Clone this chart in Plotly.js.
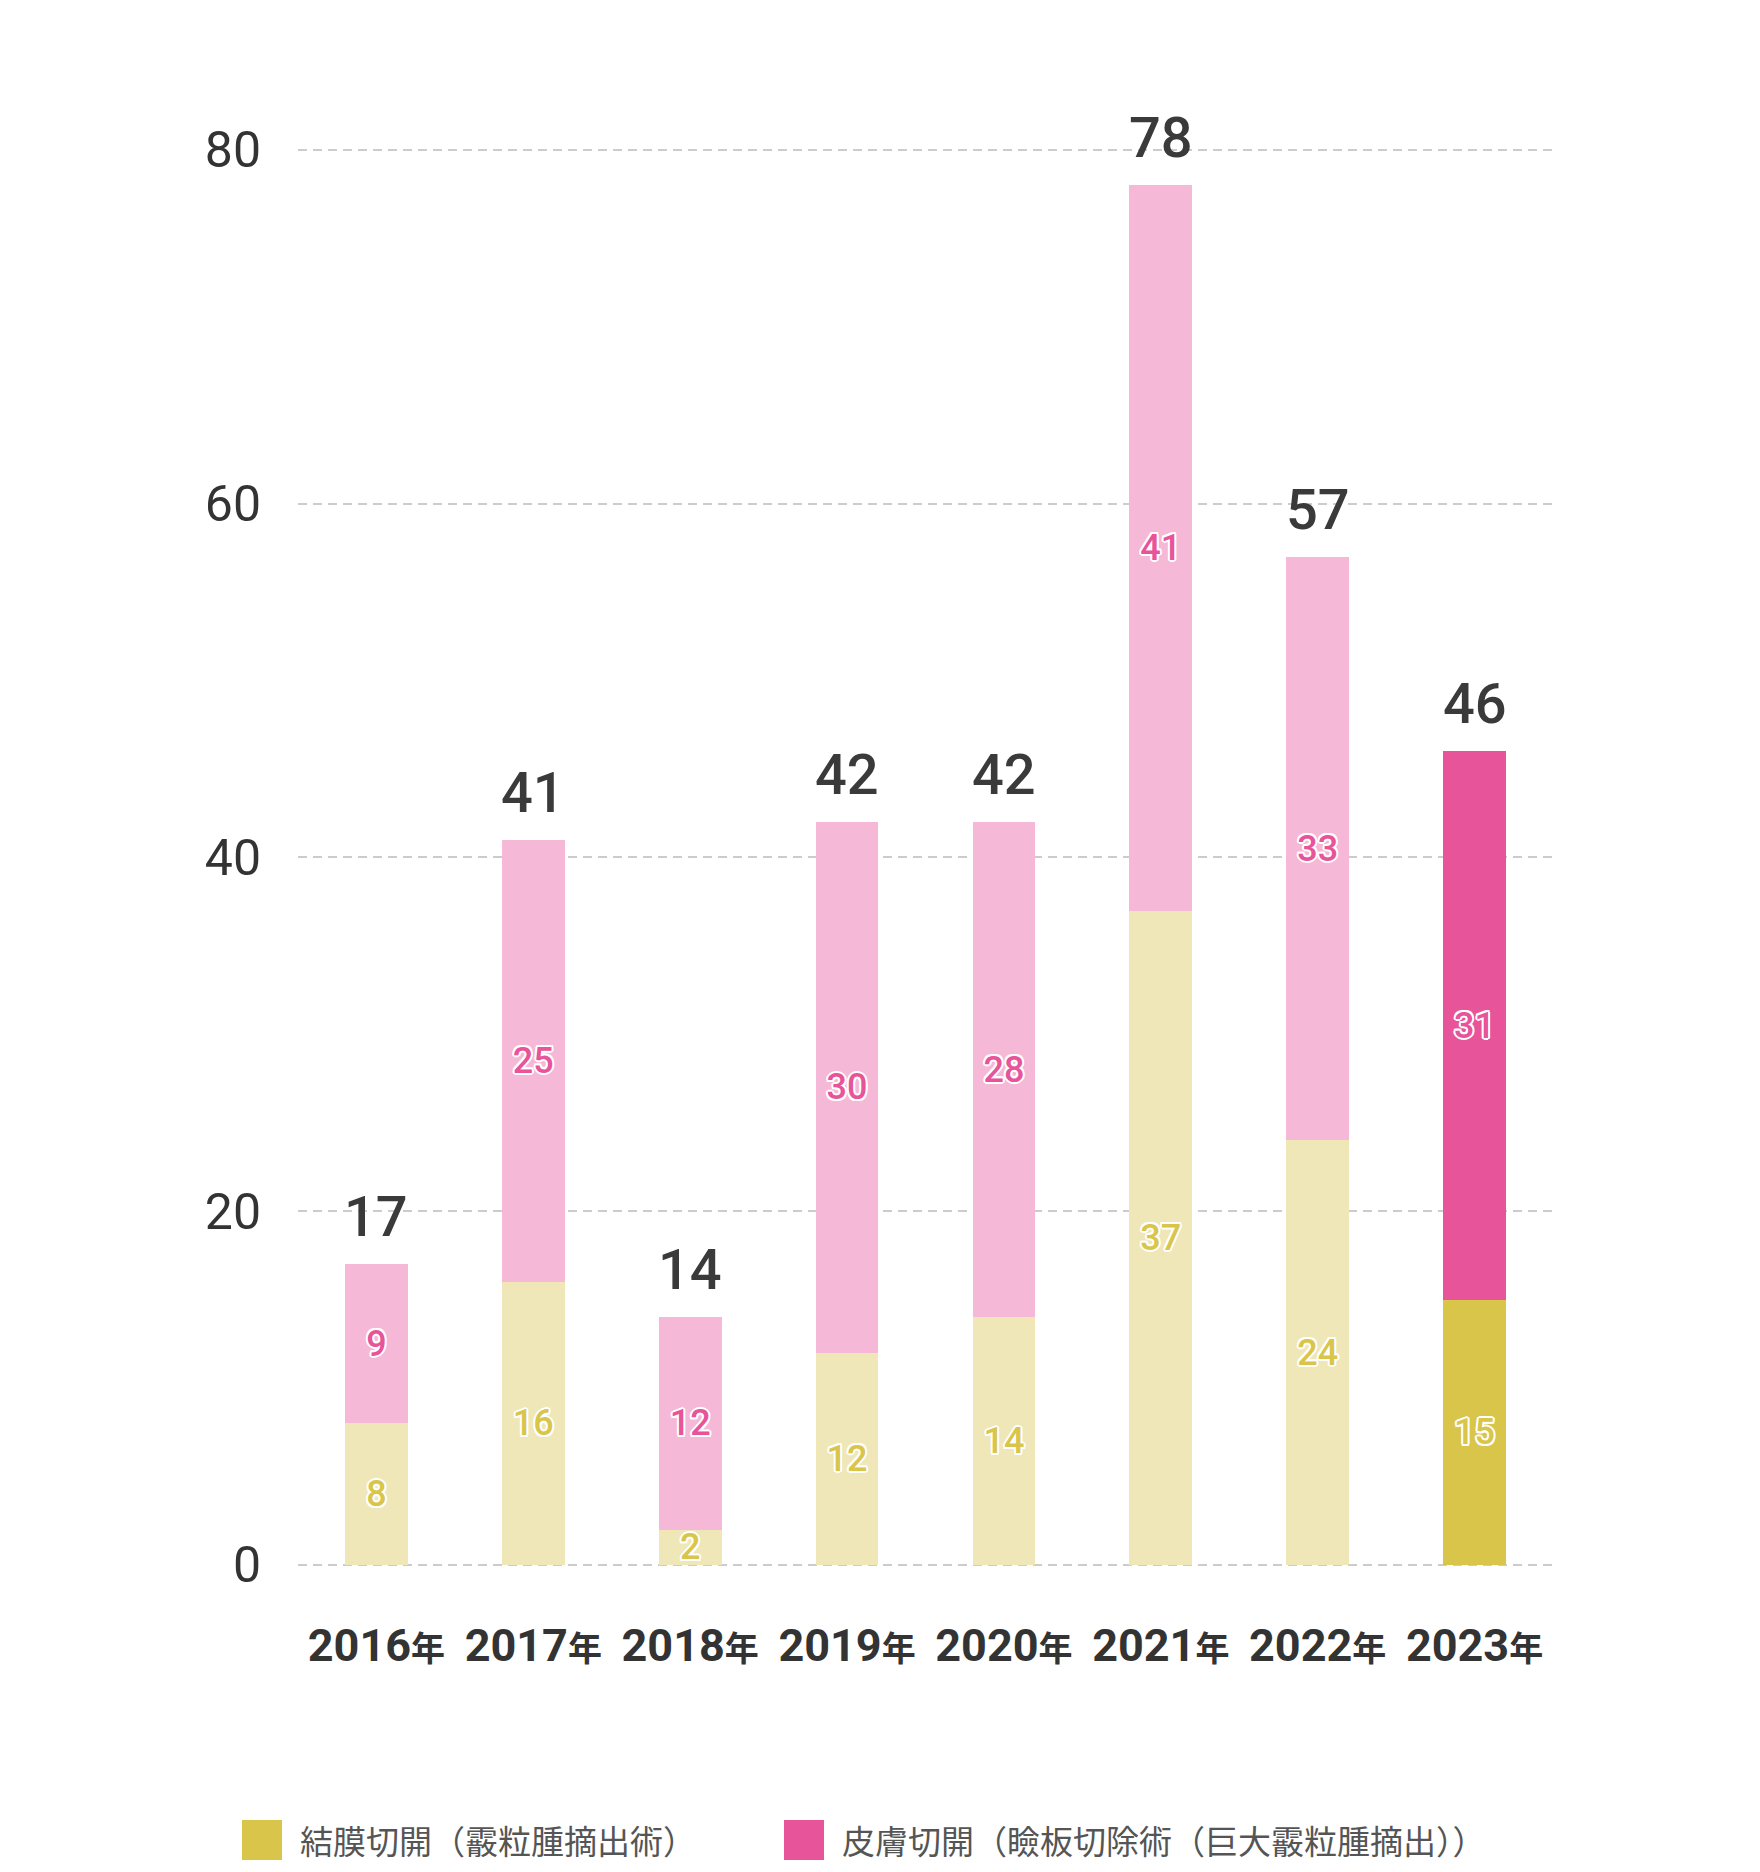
<!DOCTYPE html>
<html>
<head>
<meta charset="utf-8">
<script src="https://cdn.plot.ly/plotly-3.0.1.min.js"></script>
<style>
  html, body { margin: 0; padding: 0; background: #ffffff; }
  #chart { width: 1760px; height: 1872px; }
</style>
</head>
<body>
<div id="chart"></div>
<script>
// ---- data ----
const years = ['2016年', '2017年', '2018年', '2019年', '2020年', '2021年', '2022年', '2023年'];
const conjunctival = [8, 16, 2, 12, 14, 37, 24, 15];   // 結膜切開（霰粒腫摘出術）
const cutaneous    = [9, 25, 12, 30, 28, 41, 33, 31];  // 皮膚切開（瞼板切除術（巨大霰粒腫摘出））
const seriesNames = ['結膜切開（霰粒腫摘出術）', '皮膚切開（瞼板切除術（巨大霰粒腫摘出））'];
const yTicks = [0, 20, 40, 60, 80];
const highlightYear = '2023年';

// ---- styling ----
const YELLOW_DARK = '#d9c54a', YELLOW_LIGHT = '#efe7b8';
const PINK_DARK = '#e75499', PINK_LIGHT = '#f5b9d7';
const NUM_FONT = 'Roboto, "Noto Sans", sans-serif';
const CJK_FONT = '"Noto Sans CJK JP", "Noto Sans", sans-serif';
const outline = [
  '2px 0 0 #fff', '-2px 0 0 #fff', '0 2px 0 #fff', '0 -2px 0 #fff',
  '1.5px 1.5px 0 #fff', '-1.5px -1.5px 0 #fff', '1.5px -1.5px 0 #fff', '-1.5px 1.5px 0 #fff'
].join(', ');

const totals = years.map((_, i) => conjunctival[i] + cutaneous[i]);
const colorsFor = (dark, light) => years.map(y => y === highlightYear ? dark : light);

// plot area geometry (pixels)
const W = 1760, H = 1872;
const M = { l: 298, r: 207, t: 79, b: 304 };
const plotW = W - M.l - M.r, plotH = H - M.t - M.b;
const pxX = px => (px - M.l) / plotW;
const pxY = py => (H - M.b - py) / plotH;

const barCommon = {
  type: 'bar',
  x: years,
  width: 0.4,
  textposition: 'inside',
  insidetextanchor: 'middle',
  textangle: 0,
  constraintext: 'none',
  hoverinfo: 'skip',
  showlegend: false
};

const traces = [
  Object.assign({}, barCommon, {
    name: seriesNames[0],
    y: conjunctival,
    text: conjunctival.map(String),
    marker: { color: colorsFor(YELLOW_DARK, YELLOW_LIGHT), line: { width: 0 } },
    textfont: { family: NUM_FONT, size: 36, color: YELLOW_DARK, weight: 500, shadow: outline }
  }),
  Object.assign({}, barCommon, {
    name: seriesNames[1],
    y: cutaneous,
    text: cutaneous.map(String),
    marker: { color: colorsFor(PINK_DARK, PINK_LIGHT), line: { width: 0 } },
    textfont: { family: NUM_FONT, size: 36, color: PINK_DARK, weight: 500, shadow: outline }
  })
];

const totalAnnotations = years.map((yr, i) => ({
  x: yr, y: totals[i], xref: 'x', yref: 'y',
  text: String(totals[i]),
  showarrow: false, yanchor: 'bottom', yshift: 12,
  font: { family: NUM_FONT, size: 56, color: '#3a3a3a', weight: 500 }
}));

const legendItems = [
  { name: seriesNames[0], color: YELLOW_DARK, sx: 242 },
  { name: seriesNames[1], color: PINK_DARK, sx: 784 }
];
const legendShapes = legendItems.map(it => ({
  type: 'rect', xref: 'paper', yref: 'paper',
  x0: pxX(it.sx), x1: pxX(it.sx + 40), y0: pxY(1860), y1: pxY(1820),
  fillcolor: it.color, line: { width: 0 }
}));
const legendLabels = legendItems.map(it => ({
  xref: 'paper', yref: 'paper', x: pxX(it.sx + 56), y: pxY(1840),
  xanchor: 'left', yanchor: 'middle', showarrow: false,
  text: it.name,
  font: { family: CJK_FONT, size: 33, color: '#555555' }
}));

const layout = {
  width: W, height: H,
  margin: M,
  barmode: 'stack',
  paper_bgcolor: '#ffffff',
  plot_bgcolor: '#ffffff',
  showlegend: false,
  uniformtext: { mode: 'show', minsize: 36 },
  xaxis: {
    type: 'category',
    range: [-0.5, years.length - 0.5],
    tickvals: years,
    ticktext: years.map(y => y.replace('年', '<span style="font-family:\'Noto Sans CJK JP\';font-size:34px">年</span>')),
    tickangle: 0,
    tickfont: { family: NUM_FONT, size: 45, color: '#333333', weight: 'bold' },
    ticks: 'outside', ticklen: 38, tickcolor: 'rgba(0,0,0,0)',
    showgrid: false, zeroline: false, showline: false
  },
  yaxis: {
    range: [-0.17, 84.01],
    tickvals: yTicks,
    ticktext: yTicks.map(String),
    tickfont: { family: NUM_FONT, size: 50, color: '#333333' },
    ticks: 'outside', ticklen: 26, tickcolor: 'rgba(0,0,0,0)',
    showgrid: true, gridcolor: '#cccccc', gridwidth: 2, griddash: '9px,6px',
    zeroline: false, showline: false
  },
  annotations: totalAnnotations.concat(legendLabels),
  shapes: legendShapes
};

Plotly.newPlot('chart', traces, layout, { displayModeBar: false, staticPlot: true });
</script>
</body>
</html>
